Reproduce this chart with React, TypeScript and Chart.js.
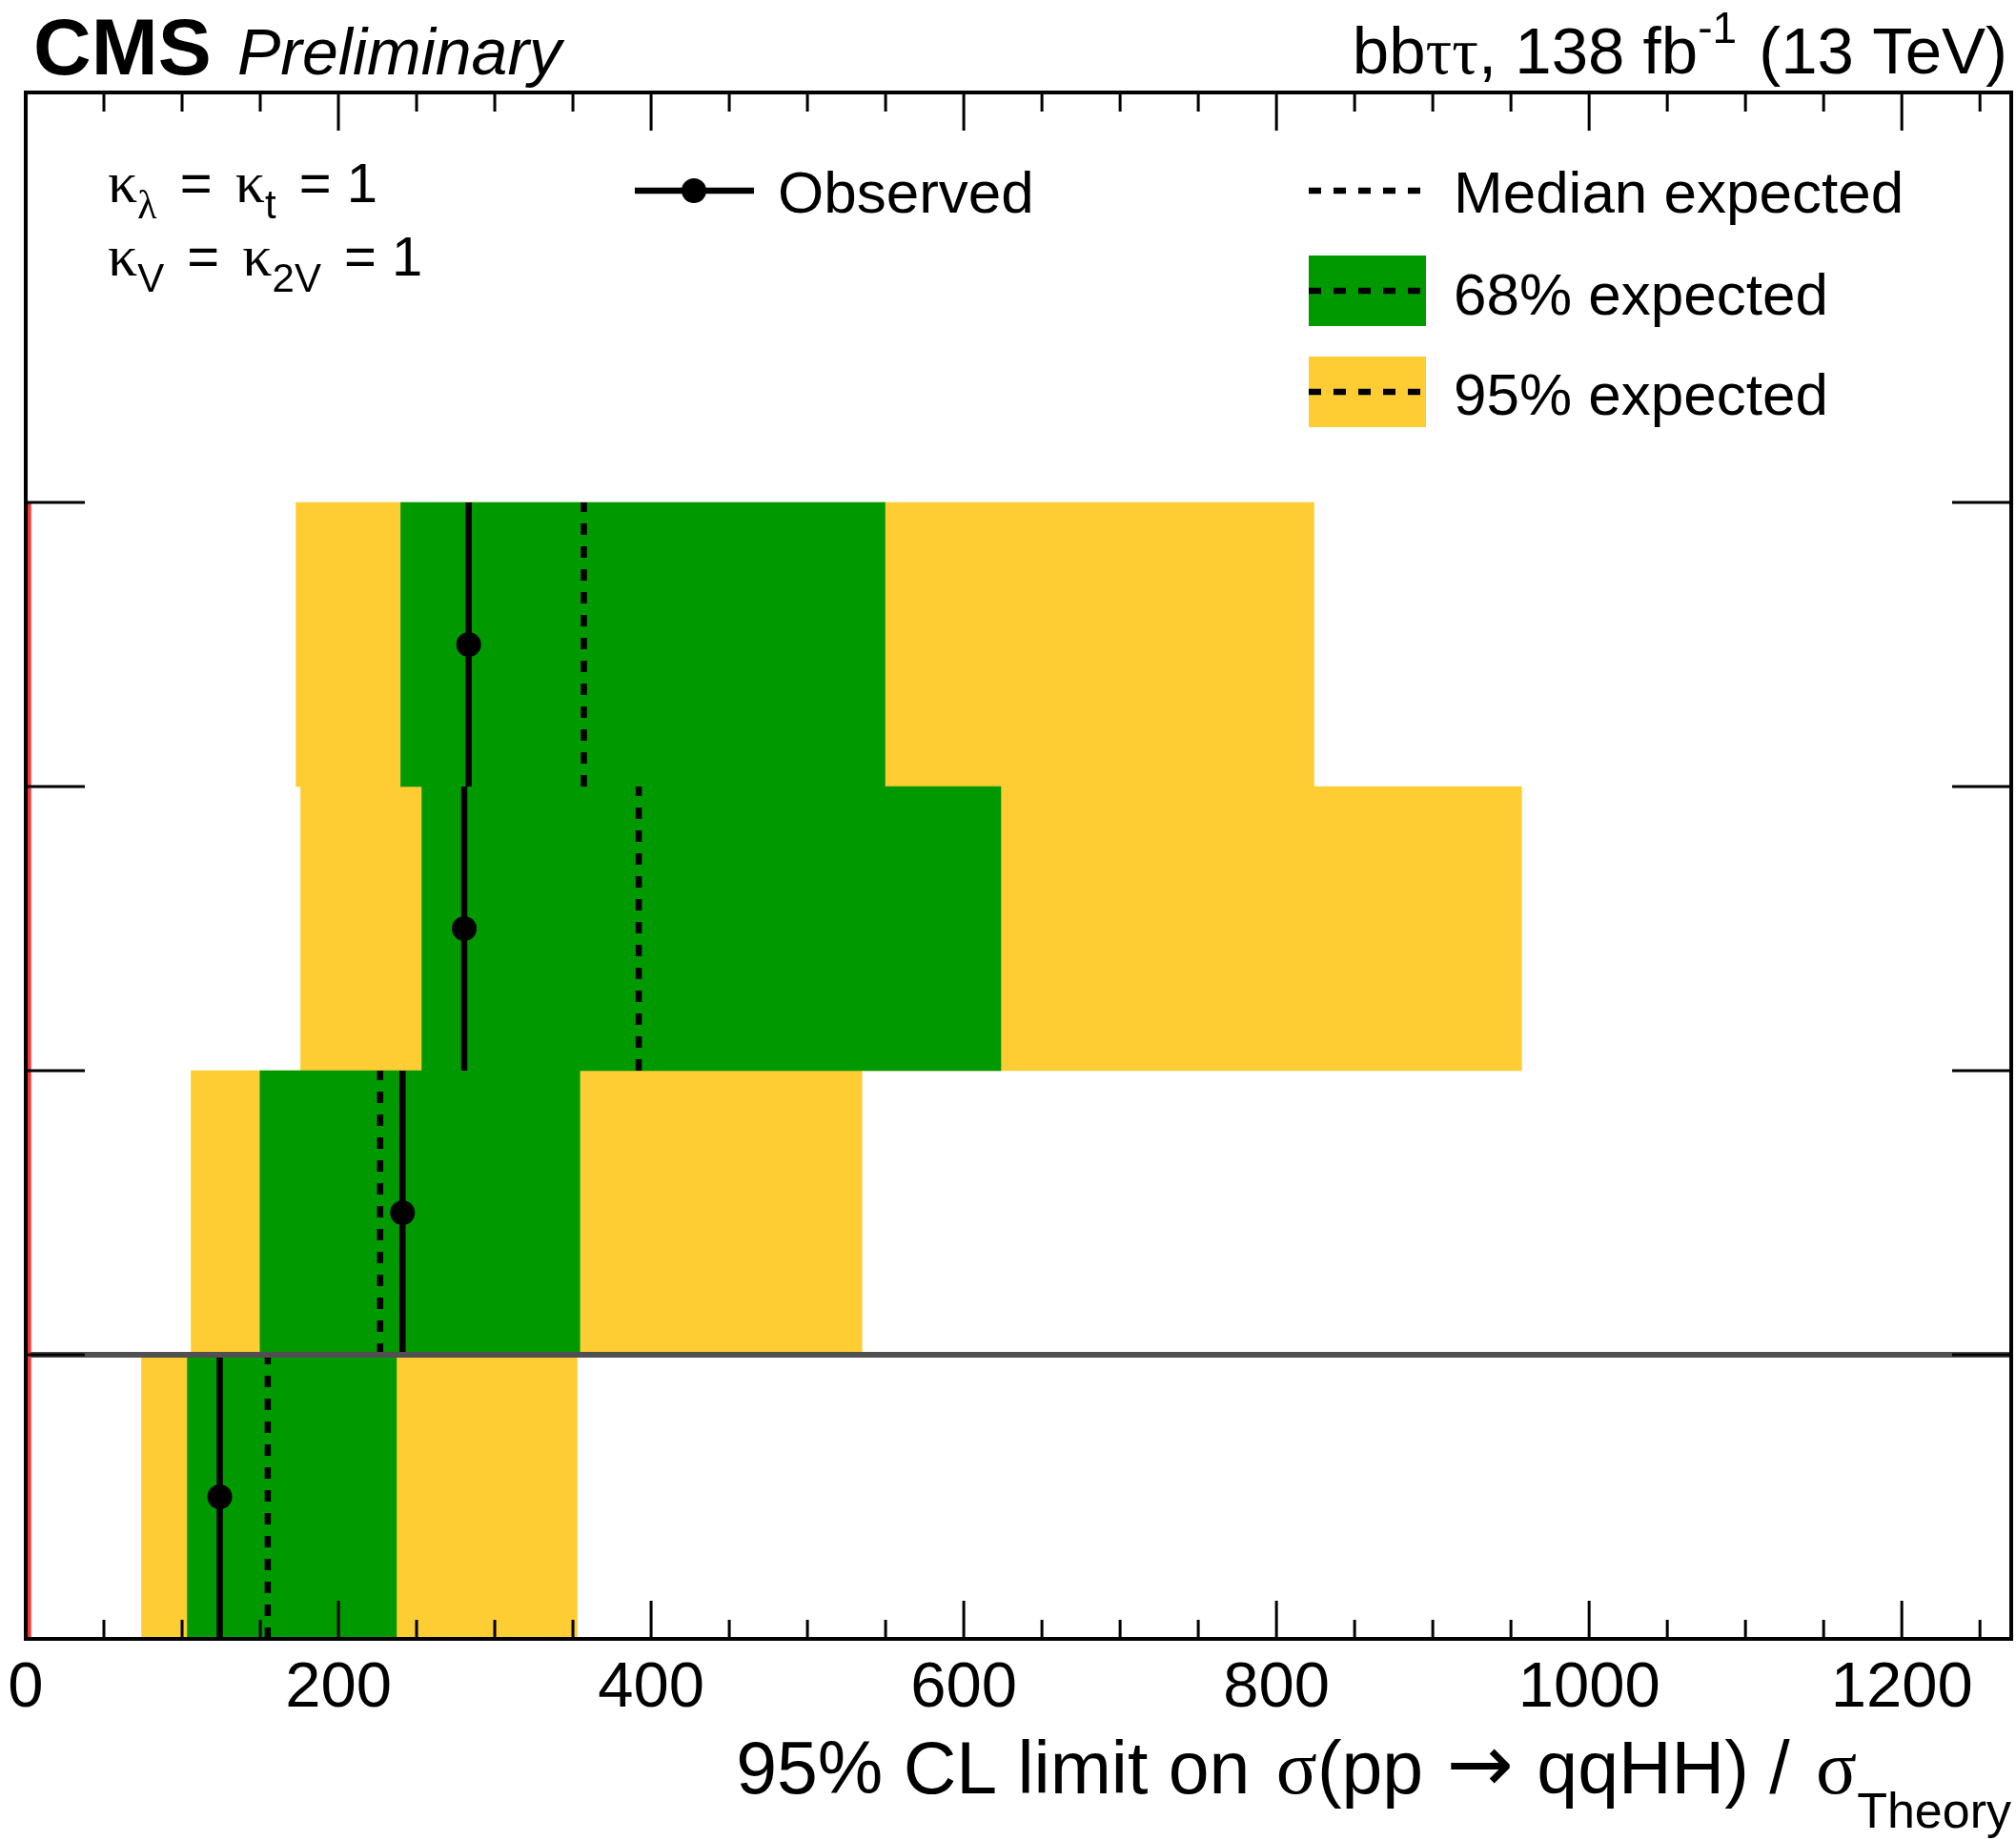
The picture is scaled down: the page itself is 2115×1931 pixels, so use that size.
import React, { useEffect, useRef } from 'react';
import { Chart, registerables } from 'chart.js';

Chart.register(...registerables);

// ---- data (rows from bottom to top) ----
const rowIndex = [0, 1, 2, 3];
const observed = [124.1, 241.0, 280.5, 283.3];
const expectedMedian = [154.8, 226.7, 392.1, 357.0];
const band68Low = [103.4, 149.9, 253.4, 239.9];
const band68High = [237.1, 354.4, 623.7, 549.6];
const band95Low = [74.1, 105.8, 175.9, 172.9];
const band95High = [352.7, 534.8, 956.8, 824.0];

const xMajorTicks = [0, 200, 400, 600, 800, 1000, 1200];
const xMinorTicks = [50, 100, 150, 250, 300, 350, 450, 500, 550, 650, 700, 750, 850, 900, 950, 1050, 1100, 1150, 1250];
const xTickLabels = ['0', '200', '400', '600', '800', '1000', '1200'];
const yTicks = [1, 2, 3, 4];
const xMin = 0;
const xMax = 1270;
const yMin = 0;
const yMax = 5.443;
const smValue = 1;
const separatorY = 1;

const GREEN = '#009900';
const YELLOW = '#fecc33';
const SANS = '"Liberation Sans", Arial, Helvetica, sans-serif';
const SERIF = '"Liberation Serif", "Times New Roman", serif';
const DEJAVU = '"DejaVu Sans", sans-serif';

type Seg = { t: string; font: string; dy?: number; gap?: number };

function measure(ctx: CanvasRenderingContext2D, segs: Seg[]) {
  let w = 0;
  for (const s of segs) {
    ctx.font = s.font;
    w += ctx.measureText(s.t).width + (s.gap || 0);
  }
  return w;
}

function drawRich(ctx: CanvasRenderingContext2D, segs: Seg[], x: number, y: number, align: 'left' | 'right' = 'left') {
  const w = measure(ctx, segs);
  let cx = align === 'right' ? x - w : x;
  ctx.textAlign = 'left';
  ctx.textBaseline = 'alphabetic';
  for (const s of segs) {
    ctx.font = s.font;
    ctx.fillText(s.t, cx, y + (s.dy || 0));
    cx += ctx.measureText(s.t).width + (s.gap || 0);
  }
}

const rootFramePlugin = {
  id: 'rootFrame',
  afterDatasetsDraw(chart: any) {
    const { ctx, chartArea: a, scales } = chart;
    const x = scales.x;
    const y = scales.y;
    ctx.save();
    ctx.strokeStyle = '#000';
    ctx.lineCap = 'butt';
    // x ticks (inward, top and bottom)
    ctx.lineWidth = 3;
    const drawXTick = (v: number, len: number) => {
      const px = x.getPixelForValue(v);
      ctx.beginPath();
      ctx.moveTo(px, a.bottom);
      ctx.lineTo(px, a.bottom - len);
      ctx.moveTo(px, a.top);
      ctx.lineTo(px, a.top + len);
      ctx.stroke();
    };
    xMajorTicks.forEach((v) => drawXTick(v, 40));
    xMinorTicks.forEach((v) => drawXTick(v, 20));
    // y ticks (inward, left and right)
    yTicks.forEach((v) => {
      const py = y.getPixelForValue(v);
      ctx.beginPath();
      ctx.moveTo(a.left, py);
      ctx.lineTo(a.left + 62, py);
      ctx.moveTo(a.right, py);
      ctx.lineTo(a.right - 62, py);
      ctx.stroke();
    });
    // frame
    ctx.lineWidth = 4;
    ctx.strokeRect(a.left, a.top, a.right - a.left, a.bottom - a.top);

    // tick labels
    ctx.fillStyle = '#000';
    ctx.font = `67px ${SANS}`;
    ctx.textAlign = 'center';
    ctx.textBaseline = 'alphabetic';
    xMajorTicks.forEach((v, i) => {
      ctx.fillText(xTickLabels[i], x.getPixelForValue(v), a.bottom + 71);
    });

    // axis title
    drawRich(
      ctx,
      [
        { t: '95% CL limit on ', font: `77px ${SANS}`, gap: 6 },
        { t: 'σ', font: `80px ${SERIF}` },
        { t: '(pp ', font: `77px ${SANS}`, gap: 3 },
        { t: '→', font: `84px ${DEJAVU}`, dy: -2, gap: 3 },
        { t: ' qqHH) / ', font: `77px ${SANS}`, gap: 6 },
        { t: 'σ', font: `80px ${SERIF}` },
        { t: 'Theory', font: `52px ${SANS}`, dy: 36 },
      ],
      2110,
      1881,
      'right'
    );

    // header
    drawRich(ctx, [{ t: 'CMS', font: `bold 84px ${SANS}` }], 35, 78);
    drawRich(ctx, [{ t: 'Preliminary', font: `italic 68px ${SANS}` }], 249, 78);
    drawRich(
      ctx,
      [
        { t: 'bb', font: `69px ${SANS}` },
        { t: 'ττ', font: `69px ${SERIF}` },
        { t: ', 138 fb', font: `69px ${SANS}` },
        { t: '-1', font: `46px ${SANS}`, dy: -32, gap: 4 },
        { t: ' (13 TeV)', font: `69px ${SANS}` },
      ],
      2106,
      77,
      'right'
    );

    // kappa text
    drawRich(
      ctx,
      [
        { t: 'κ', font: `62px ${SERIF}` },
        { t: 'λ', font: `42px ${SERIF}`, dy: 17, gap: 8 },
        { t: ' = ', font: `58px ${SANS}`, gap: 8 },
        { t: 'κ', font: `62px ${SERIF}` },
        { t: 't', font: `42px ${SANS}`, dy: 17, gap: 8 },
        { t: ' = 1', font: `58px ${SANS}` },
      ],
      113,
      212
    );
    drawRich(
      ctx,
      [
        { t: 'κ', font: `62px ${SERIF}` },
        { t: 'V', font: `42px ${SANS}`, dy: 17, gap: 8 },
        { t: ' = ', font: `58px ${SANS}`, gap: 8 },
        { t: 'κ', font: `62px ${SERIF}` },
        { t: '2V', font: `42px ${SANS}`, dy: 17, gap: 8 },
        { t: ' = 1', font: `58px ${SANS}` },
      ],
      113,
      289
    );

    // legend
    const dashLine = (x0: number, x1: number, yy: number) => {
      ctx.save();
      ctx.strokeStyle = '#000';
      ctx.lineWidth = 6.5;
      ctx.setLineDash([13, 13]);
      ctx.beginPath();
      ctx.moveTo(x0, yy);
      ctx.lineTo(x1, yy);
      ctx.stroke();
      ctx.restore();
    };
    // Observed
    ctx.lineWidth = 6.5;
    ctx.beginPath();
    ctx.moveTo(666, 200);
    ctx.lineTo(791, 200);
    ctx.stroke();
    ctx.beginPath();
    ctx.arc(728, 200, 13, 0, Math.PI * 2);
    ctx.fill();
    drawRich(ctx, [{ t: 'Observed', font: `62px ${SANS}` }], 816, 223);
    // Median expected
    dashLine(1373, 1496, 200);
    drawRich(ctx, [{ t: 'Median expected', font: `62px ${SANS}` }], 1525, 223);
    // 68%
    ctx.fillStyle = GREEN;
    ctx.fillRect(1373, 268, 123, 74);
    dashLine(1373, 1496, 305);
    ctx.fillStyle = '#000';
    drawRich(ctx, [{ t: '68% expected', font: `62px ${SANS}` }], 1525, 330);
    // 95%
    ctx.fillStyle = YELLOW;
    ctx.fillRect(1373, 374, 123, 74);
    dashLine(1373, 1496, 411);
    ctx.fillStyle = '#000';
    drawRich(ctx, [{ t: '95% expected', font: `62px ${SANS}` }], 1525, 435);

    ctx.restore();
  },
};

function verticalSegments(values: number[]) {
  const pts: { x: number; y: number | null }[] = [];
  rowIndex.forEach((r, i) => {
    pts.push({ x: values[i], y: r });
    pts.push({ x: values[i], y: r + 1 });
    pts.push({ x: values[i], y: null });
  });
  return pts;
}

export default function App() {
  const canvasRef = useRef<HTMLCanvasElement | null>(null);

  useEffect(() => {
    document.body.style.margin = '0';
    const canvas = canvasRef.current;
    if (!canvas) return;
    const chart = new Chart(canvas, {
      type: 'bar',
      data: {
        datasets: [
          {
            type: 'bar',
            label: '95% expected',
            indexAxis: 'y',
            data: rowIndex.map((r, i) => ({ x: [band95Low[i], band95High[i]], y: r + 0.5 })) as any,
            backgroundColor: YELLOW,
            borderWidth: 0,
            grouped: false,
            barPercentage: 1,
            categoryPercentage: 1,
            order: 10,
          } as any,
          {
            type: 'bar',
            label: '68% expected',
            indexAxis: 'y',
            data: rowIndex.map((r, i) => ({ x: [band68Low[i], band68High[i]], y: r + 0.5 })) as any,
            backgroundColor: GREEN,
            borderWidth: 0,
            grouped: false,
            barPercentage: 1,
            categoryPercentage: 1,
            order: 9,
          } as any,
          {
            type: 'line',
            label: 'Median expected',
            data: verticalSegments(expectedMedian) as any,
            borderColor: '#000',
            borderWidth: 6.5,
            borderDash: [12, 12],
            pointRadius: 0,
            spanGaps: false,
            fill: false,
            order: 5,
          } as any,
          {
            type: 'line',
            label: 'Observed',
            data: verticalSegments(observed) as any,
            borderColor: '#000',
            borderWidth: 6.5,
            pointRadius: 0,
            spanGaps: false,
            fill: false,
            order: 4,
          } as any,
          {
            type: 'scatter',
            label: 'Observed points',
            data: rowIndex.map((r, i) => ({ x: observed[i], y: r + 0.5 })),
            pointRadius: 13,
            pointBackgroundColor: '#000',
            pointBorderWidth: 0,
            showLine: false,
            order: 3,
          } as any,
          {
            type: 'line',
            label: 'separator',
            data: [
              { x: xMin, y: separatorY },
              { x: xMax, y: separatorY },
            ],
            borderColor: '#505050',
            borderWidth: 6,
            pointRadius: 0,
            fill: false,
            order: 2,
          } as any,
          {
            type: 'line',
            label: 'SM',
            data: [
              { x: smValue, y: 0 },
              { x: smValue, y: 4 },
            ],
            borderColor: '#ff3333',
            borderWidth: 8,
            pointRadius: 0,
            fill: false,
            order: 1,
          } as any,
        ],
      },
      options: {
        animation: false,
        responsive: false,
        devicePixelRatio: 1,
        layout: { autoPadding: false, padding: { left: 27, top: 97, right: 5, bottom: 212 } },
        plugins: { legend: { display: false }, tooltip: { enabled: false }, title: { display: false } },
        scales: {
          x: {
            type: 'linear',
            min: xMin,
            max: xMax,
            display: false,
            offset: false,
            grid: { offset: false },
          },
          y: {
            type: 'linear',
            min: yMin,
            max: yMax,
            display: false,
            offset: false,
            grid: { offset: false },
            ticks: { stepSize: 1, includeBounds: false },
          },
        },
      } as any,
      plugins: [rootFramePlugin],
    });
    return () => chart.destroy();
  }, []);

  return <canvas ref={canvasRef} width={2115} height={1931} style={{ display: 'block', width: 2115, height: 1931 }} />;
}
